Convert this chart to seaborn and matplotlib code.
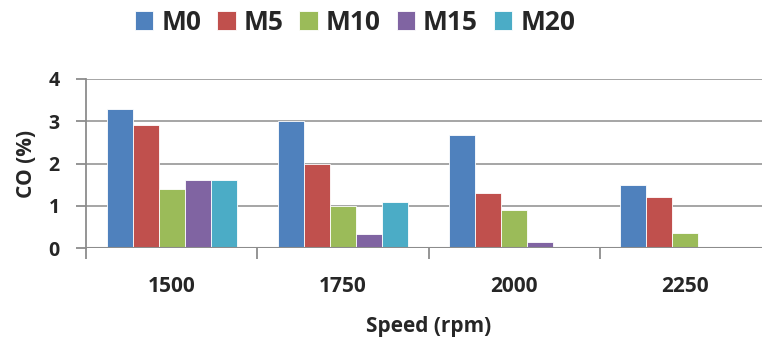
import matplotlib
matplotlib.use('Agg')
import matplotlib.pyplot as plt
import numpy as np
import pandas as pd
import seaborn as sns

# Data
speeds = ['1500', '1750', '2000', '2250']
blends = ['M0', 'M5', 'M10', 'M15', 'M20']
m0 = [3.3, 3.0, 2.67, 1.48]
m5 = [2.9, 2.0, 1.3, 1.2]
m10 = [1.4, 1.0, 0.9, 0.36]
m15 = [1.6, 0.34, 0.14, 0.0]
m20 = [1.6, 1.1, 0.0, 0.0]
colors = ['#4F81BD', '#C0504D', '#9BBB59', '#8064A2', '#4BACC6']

rows = []
for name, vals in zip(blends, [m0, m5, m10, m15, m20]):
    for s, v in zip(speeds, vals):
        rows.append({'Speed': s, 'Blend': name, 'CO': v})
df = pd.DataFrame(rows)

sns.set_theme(style='white')
plt.rcParams['font.family'] = ['Open Sans', 'DejaVu Sans']
plt.rcParams['font.weight'] = 'bold'

fig = plt.figure(figsize=(7.62, 3.42), dpi=100)
ax = fig.add_axes([86 / 762, (342 - 248) / 342, (771 - 86) / 762, (248 - 79) / 342])

sns.barplot(data=df, x='Speed', y='CO', hue='Blend', order=speeds, hue_order=blends,
            palette=colors, saturation=1, width=0.76, gap=0, edgecolor='white',
            linewidth=0.6, ax=ax, legend=True)

ax.set_ylim(0, 4)
ax.set_xlim(-0.5, 3.5)
ax.set_yticks([0, 1, 2, 3, 4])
ax.yaxis.grid(True, color='#9E9E9E', linewidth=1.3)
ax.set_axisbelow(True)
for side in ['top', 'right', 'bottom']:
    ax.spines[side].set_visible(False)
ax.spines['left'].set_color('#8C8C8C')
ax.spines['left'].set_linewidth(1.3)
ax.axhline(0, color='#8C8C8C', linewidth=1.5, zorder=5)

ax.tick_params(axis='y', which='major', length=7, width=1.3, color='#8C8C8C',
               direction='out', left=True, labelsize=14, pad=12)
ax.tick_params(axis='x', which='major', length=0, labelsize=15, pad=20)
ax.set_xticks(np.arange(-0.5, 4, 1), minor=True)
ax.tick_params(axis='x', which='minor', length=8, width=1.3, color='#8C8C8C',
               direction='out', bottom=True)
for lab in ax.get_xticklabels() + ax.get_yticklabels():
    lab.set_fontweight('bold')

ax.set_xlabel('Speed (rpm)', fontsize=15, fontweight='bold', labelpad=14)
ax.set_ylabel('CO (%)', fontsize=15, fontweight='bold', labelpad=8)

handles, labels = ax.get_legend_handles_labels()
ax.legend(handles, labels, loc='center', bbox_to_anchor=((355 - 86) / 685, 1 + 57 / 169),
          ncol=5, frameon=False, prop={'weight': 'bold', 'size': 19},
          handlelength=0.7, handleheight=0.7, handletextpad=0.3, columnspacing=0.6)

fig.savefig('out.png', dpi=100)
